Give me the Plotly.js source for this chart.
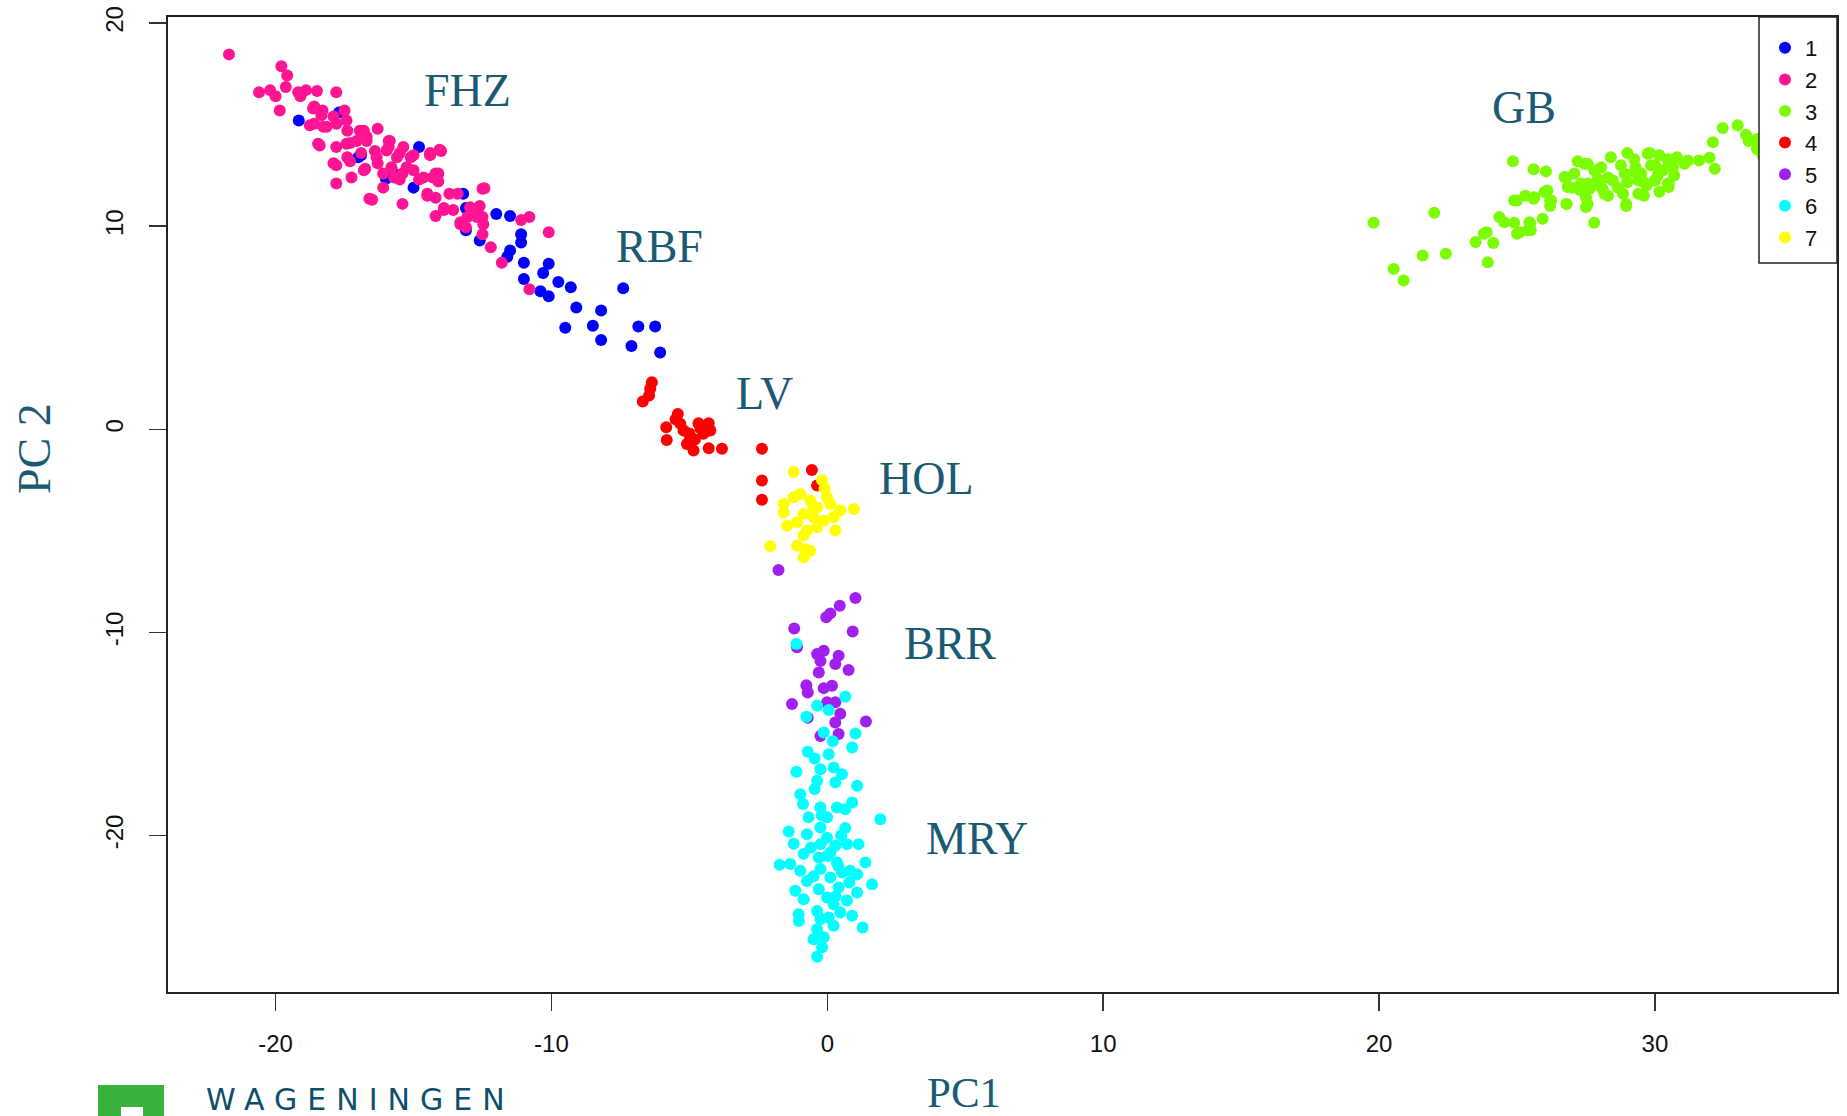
<!DOCTYPE html>
<html>
<head>
<meta charset="utf-8">
<script src="https://cdn.plot.ly/plotly-3.0.1.min.js"></script>
<style>
html,body{margin:0;padding:0;background:#ffffff;}
#chart{width:1847px;height:1116px;}
</style>
</head>
<body>
<div id="chart"></div>
<script>
// ---- data (PC1, PC2 scores) ----
const groupNames  = ['1','2','3','4','5','6','7'];
const groupColors = ['#0000FF','#FF1493','#7CFC00','#FF0000','#A020F0','#00FFFF','#FFFF00'];

const group1 = [[-19.16,15.2],[-17.7,15.6],[-17.0,13.4],[-14.8,13.9],[-15.7,12.6],[-15.0,11.9],[-13.2,11.6],[-13.1,10.9],[-13.1,9.8],[-12.6,9.3],
  [-12.0,10.6],[-11.5,10.5],[-11.1,9.6],[-11.1,9.2],[-11.5,8.8],[-11.6,8.5],[-11.0,8.2],[-10.1,8.15],[-10.3,7.7],[-11.0,7.4],
  [-9.75,7.25],[-9.3,7.0],[-10.4,6.8],[-10.1,6.55],[-7.4,6.95],[-9.1,6.0],[-8.2,5.85],[-9.5,5.0],[-8.5,5.1],[-8.2,4.4],
  [-6.85,5.06],[-7.1,4.1],[-6.24,5.06],[-6.06,3.78],[-16.0,12.34],[-16.9,13.5]];

const group2 = [[-21.69,18.46],[-19.79,17.88],[-19.58,17.42],[-19.63,16.85],[-20.6,16.6],[-20.2,16.7],[-20.0,16.4],[-19.85,15.7],[-19.18,16.6],[-18.9,16.7],
  [-18.5,16.66],[-17.8,16.6],[-19.1,16.4],[-18.6,15.9],[-18.3,15.7],[-17.5,15.7],[-17.9,15.4],[-18.6,15.05],[-18.15,14.9],[-17.4,14.7],
  [-16.8,14.7],[-16.3,14.8],[-18.4,13.97],[-17.8,13.9],[-17.3,14.1],[-16.7,14.2],[-15.9,14.2],[-17.9,13.1],[-17.4,13.4],[-16.9,13.6],
  [-16.4,13.7],[-15.9,13.9],[-15.5,13.6],[-15.1,13.4],[-14.4,13.6],[-14.0,13.7],[-17.8,12.1],[-17.25,12.4],[-16.8,12.75],[-16.3,13.1],
  [-16.1,12.6],[-15.8,12.9],[-15.4,12.6],[-15.0,12.75],[-14.8,12.3],[-14.3,12.4],[-14.1,12.6],[-16.1,11.9],[-15.5,12.3],[-16.6,11.35],
  [-15.4,11.1],[-14.5,11.6],[-14.2,11.4],[-13.7,11.6],[-13.4,11.6],[-12.5,11.85],[-14.2,10.5],[-13.9,10.8],[-13.3,10.2],[-13.05,10.45],
  [-12.7,10.8],[-12.5,10.45],[-11.1,10.3],[-10.8,10.45],[-10.1,9.7],[-12.5,9.6],[-12.2,8.97],[-11.8,8.2],[-10.8,6.9],[-18.64,15.8],
  [-18.34,15.46],[-18.76,14.97],[-18.27,14.9],[-17.79,15.05],[-17.43,15.2],[-16.95,14.7],[-18.46,14.06],[-17.43,14.06],[-17.06,14.2],[-16.7,14.4],
  [-17.8,13.0],[-17.3,13.2],[-16.75,12.83],[-16.34,13.4],[-15.98,13.73],[-15.86,14.2],[-15.6,13.4],[-15.37,13.9],[-15.25,12.9],[-15.7,12.4],
  [-15.0,13.5],[-14.64,12.4],[-14.2,12.6],[-14.1,12.2],[-14.4,13.5],[-14.06,13.77],[-16.5,11.3],[-14.5,11.5],[-13.9,10.9],[-13.56,10.8],
  [-12.95,10.94],[-12.6,11.0],[-12.43,11.87],[-12.7,10.45],[-13.3,10.1],[-12.47,10.1],[-13.1,9.95]];

const group3 = [[19.8,10.17],[22.0,10.66],[20.53,7.9],[20.89,7.33],[21.58,8.56],[22.42,8.64],[23.94,8.23],[23.5,9.22],[23.8,9.63],[24.14,9.17],
  [24.36,10.45],[24.54,10.2],[24.9,10.17],[25.0,9.63],[25.5,9.8],[25.48,10.15],[25.93,10.37],[24.85,13.2],[25.6,12.8],[26.05,12.7],
  [25.0,11.27],[25.3,11.5],[25.6,11.35],[26.0,11.68],[26.2,11.27],[26.2,11.0],[26.8,11.1],[26.8,12.4],[27.08,12.6],[27.2,13.2],
  [27.56,13.07],[27.0,11.9],[27.3,11.77],[27.56,12.1],[27.56,11.1],[27.8,10.17],[28.05,12.9],[28.3,12.4],[28.4,13.4],[28.1,11.85],
  [28.3,11.5],[28.65,11.9],[28.84,11.6],[28.96,11.1],[28.9,12.58],[29.0,13.6],[29.25,13.3],[29.25,12.66],[29.4,12.25],[29.4,11.6],
  [29.6,11.5],[29.7,12.0],[29.8,13.6],[29.86,13.0],[30.1,12.5],[30.16,13.5],[30.16,11.7],[30.5,12.1],[30.5,13.0],[30.7,12.5],
  [30.7,13.3],[31.2,13.24],[31.6,13.24],[31.98,13.37],[32.17,12.83],[32.1,14.14],[32.46,14.83],[33.0,14.97],[33.3,14.5],[33.4,14.2],
  [33.7,13.8],[33.7,14.3],[26.72,12.42],[27.45,13.08],[27.8,12.75],[27.93,12.34],[28.77,13.0],[29.3,12.9],[29.5,12.58],[30.0,13.0],
  [30.3,12.75],[30.65,12.9],[31.07,13.08],[26.84,11.93],[27.32,12.1],[27.63,11.85],[28.0,12.0],[28.47,12.25],[29.0,12.17],[29.6,12.17],
  [30.0,12.25],[30.46,12.1],[24.9,11.27],[25.63,11.43],[26.1,11.76],[26.24,11.27],[26.79,11.1],[27.5,11.43],[27.5,10.94],[28.17,11.6],
  [28.96,11.0],[30.5,11.93],[25.45,10.2],[25.4,9.8],[25.1,9.7],[23.9,9.7],[30.46,13.3],[30.8,13.4],[29.74,13.57],[34.0,14.0],
  [34.35,14.3],[33.9,13.5]];

const group4 = [[-6.36,2.32],[-6.42,2.0],[-6.46,1.67],[-6.69,1.37],[-5.42,0.76],[-5.84,0.1],[-5.33,0.27],[-5.21,-0.06],[-4.67,0.3],[-4.3,0.3],
  [-4.24,-0.06],[-4.97,-0.39],[-5.82,-0.52],[-5.09,-0.72],[-4.85,-1.04],[-4.3,-0.93],[-3.82,-0.96],[-2.37,-0.96],[-2.37,-2.52],[-2.37,-3.47],
  [-0.56,-2.0],[-0.37,-2.77],[-4.49,-0.22],[-5.0,-0.2],[-4.6,0.05],[-5.5,0.5],[-4.8,-0.5]];

const group5 = [[-1.77,-6.92],[1.02,-8.3],[0.45,-8.68],[0.11,-9.06],[-0.04,-9.25],[-1.2,-9.8],[0.92,-9.95],[-1.1,-10.73],[-0.37,-11.06],[-0.13,-10.9],
  [-0.25,-11.4],[0.41,-11.14],[0.29,-11.55],[0.77,-11.85],[-0.31,-11.97],[-0.76,-12.6],[-0.71,-12.95],[-0.13,-12.74],[0.17,-12.62],[-1.28,-13.52],
  [-0.01,-13.44],[0.29,-13.44],[0.47,-14.0],[-0.71,-14.2],[0.29,-14.43],[1.4,-14.38],[-0.25,-15.1],[0.41,-15.0]];

const group6 = [[-1.12,-10.57],[0.65,-13.17],[-0.37,-13.61],[0.05,-13.82],[-0.76,-14.15],[-0.13,-14.92],[0.2,-15.36],[1.02,-14.97],[0.9,-15.66],[-0.71,-15.87],
  [0.05,-15.99],[-0.46,-16.2],[-1.12,-16.86],[-0.25,-16.73],[0.23,-16.65],[0.53,-16.98],[-0.37,-17.3],[0.29,-17.38],[1.08,-17.55],[-0.46,-17.71],
  [-0.98,-17.96],[-0.88,-18.45],[-0.25,-18.62],[0.35,-18.62],[0.9,-18.37],[0.65,-18.7],[1.92,-19.2],[-0.68,-19.1],[-0.01,-19.1],[-0.25,-19.6],
  [0.65,-19.63],[-1.4,-19.8],[-0.74,-19.93],[-0.01,-20.1],[-1.22,-20.4],[-0.25,-20.42],[0.29,-20.5],[0.71,-20.42],[1.13,-20.42],[-0.86,-20.9],
  [-0.31,-21.08],[0.11,-20.83],[-1.73,-21.44],[-1.34,-21.4],[0.35,-21.32],[1.38,-21.32],[-0.98,-21.73],[-0.25,-21.65],[0.83,-21.73],[-0.74,-22.23],
  [0.11,-22.06],[0.53,-21.82],[1.08,-21.9],[1.62,-22.39],[-1.16,-22.72],[-0.31,-22.64],[0.41,-22.55],[1.08,-22.8],[-0.86,-23.13],[-0.01,-23.05],
  [0.23,-23.38],[0.71,-23.2],[-0.37,-23.71],[0.47,-23.79],[-1.04,-23.87],[0.9,-23.95],[-0.25,-24.11],[0.05,-24.03],[-1.03,-24.2],[0.23,-24.44],
  [1.28,-24.53],[-0.37,-24.61],[-0.5,-25.1],[-0.13,-25.0],[-0.19,-25.5],[-0.37,-25.97],[0.0,-21.0],[0.5,-20.0],[-0.5,-22.0],[0.3,-23.0],
  [-0.6,-20.6],[0.8,-22.3],[-0.2,-19.0],[0.4,-21.5]];

const group7 = [[-1.22,-2.1],[-0.19,-2.5],[-1.58,-3.67],[-1.22,-3.34],[-0.98,-3.18],[-0.62,-3.5],[-0.37,-3.84],[-0.01,-3.34],[0.11,-3.67],[0.47,-4.0],
  [0.96,-3.92],[-1.58,-4.1],[-0.86,-4.17],[-0.5,-4.33],[-0.13,-4.49],[0.23,-4.33],[-1.46,-4.74],[-1.1,-4.58],[-0.74,-4.98],[-0.37,-4.82],
  [0.29,-4.98],[-0.86,-5.23],[-1.1,-5.73],[-0.8,-5.9],[-2.07,-5.76],[-0.86,-6.3],[-0.62,-5.98],[-0.1,-2.9],[-0.5,-3.9]];

const groups = [group1, group2, group3, group4, group5, group6, group7];

const clusterLabels = ['FHZ','RBF','LV','HOL','BRR','MRY','GB'];
const clusterLabelPC1 = [-13.06,-6.1,-2.26,3.61,4.43,5.43,25.25];
const clusterLabelPC2 = [16.69,9.0,1.78,-2.43,-10.52,-20.15,15.83];

const xTickValues = [-20,-10,0,10,20,30];
const xTickLabels = ['-20','-10','0','10','20','30'];
const yTickValues = [-20,-10,0,10,20];
const yTickLabels = ['-20','-10','0','10','20'];

const xTitle = 'PC1';
const yTitle = 'PC 2';
const logoText = 'WAGENINGEN';

// ---- traces ----
const traces = groups.map((g, i) => ({
  type: 'scatter',
  mode: 'markers',
  name: groupNames[i],
  x: g.map(p => p[0]),
  y: g.map(p => p[1]),
  marker: {color: groupColors[i], size: 12, line: {width: 0}},
  hoverinfo: 'x+y+name'
}));

// pixel helpers for paper coordinates of the plot frame
const L = 168, R = 1837, T = 17, B = 992;
const px = v => (v - L) / (R - L);
const py = v => (B - v) / (B - T);

const labelColor = '#1b5a73';
const serif = 'Liberation Serif, Times New Roman, serif';
const sans = 'Liberation Sans, Arial, sans-serif';

const annotations = clusterLabels.map((t, i) => ({
  text: t, x: clusterLabelPC1[i], y: clusterLabelPC2[i], xref: 'x', yref: 'y',
  showarrow: false, xanchor: 'center', yanchor: 'middle',
  font: {family: serif, size: 46, color: labelColor}
}));
annotations.push({text: xTitle, xref: 'paper', yref: 'paper', x: px(964), y: py(1092),
  showarrow: false, xanchor: 'center', yanchor: 'middle', font: {family: serif, size: 43, color: labelColor}});
annotations.push({text: yTitle, xref: 'paper', yref: 'paper', x: px(35), y: py(449), textangle: -90,
  showarrow: false, xanchor: 'center', yanchor: 'middle', font: {family: serif, size: 46, color: labelColor}});
annotations.push({text: logoText, xref: 'paper', yref: 'paper', x: px(360), y: py(1099),
  showarrow: false, xanchor: 'center', yanchor: 'middle',
  font: {family: 'DejaVu Sans, sans-serif', size: 30, weight: 500, color: '#0e4f6b'}});

const layout = {
  width: 1847, height: 1116,
  margin: {l: L, r: 1847 - R, t: T, b: 1116 - B, pad: 0},
  paper_bgcolor: '#ffffff', plot_bgcolor: '#ffffff',
  showlegend: true,
  legend: {x: px(1765), y: py(27), xanchor: 'left', yanchor: 'top',
    bgcolor: 'rgba(0,0,0,0)', borderwidth: 0, itemwidth: 30,
    font: {family: sans, size: 22, color: '#111111'}},
  xaxis: {range: [-23.9, 36.6], tickmode: 'array', tickvals: xTickValues, ticktext: xTickLabels,
    ticks: 'outside', ticklen: 17, tickwidth: 1.5, tickcolor: '#333333',
    showline: true, linecolor: '#222222', linewidth: 2, mirror: true,
    showgrid: false, zeroline: false, ticklabelstandoff: 12,
    tickfont: {family: sans, size: 24, color: '#111111'}},
  yaxis: {range: [-27.7, 20.3], tickmode: 'array', tickvals: yTickValues, ticktext: yTickLabels,
    tickangle: -90, ticks: 'outside', ticklen: 17, tickwidth: 1.5, tickcolor: '#333333',
    showline: true, linecolor: '#222222', linewidth: 2, mirror: true,
    showgrid: false, zeroline: false, ticklabelstandoff: 16,
    tickfont: {family: sans, size: 24, color: '#111111'}},
  shapes: [
    {type: 'rect', xref: 'paper', yref: 'paper', x0: px(1759), x1: 1, y0: py(263), y1: 1,
      fillcolor: '#ffffff', line: {color: '#222222', width: 1.5}, layer: 'above'},
    {type: 'rect', xref: 'paper', yref: 'paper', x0: px(98), x1: px(164), y0: py(1120), y1: py(1085),
      fillcolor: '#39b13a', line: {width: 0}, layer: 'above'},
    {type: 'rect', xref: 'paper', yref: 'paper', x0: px(121), x1: px(143), y0: py(1120), y1: py(1107),
      fillcolor: '#ffffff', line: {width: 0}, layer: 'above'}
  ],
  annotations: annotations
};

Plotly.newPlot('chart', traces, layout, {displayModeBar: false, staticPlot: true}).then(() => {
  document.querySelectorAll('.annotation-text').forEach(el => {
    if (el.textContent === logoText) el.style.letterSpacing = '10px';
  });
});
</script>
</body>
</html>
